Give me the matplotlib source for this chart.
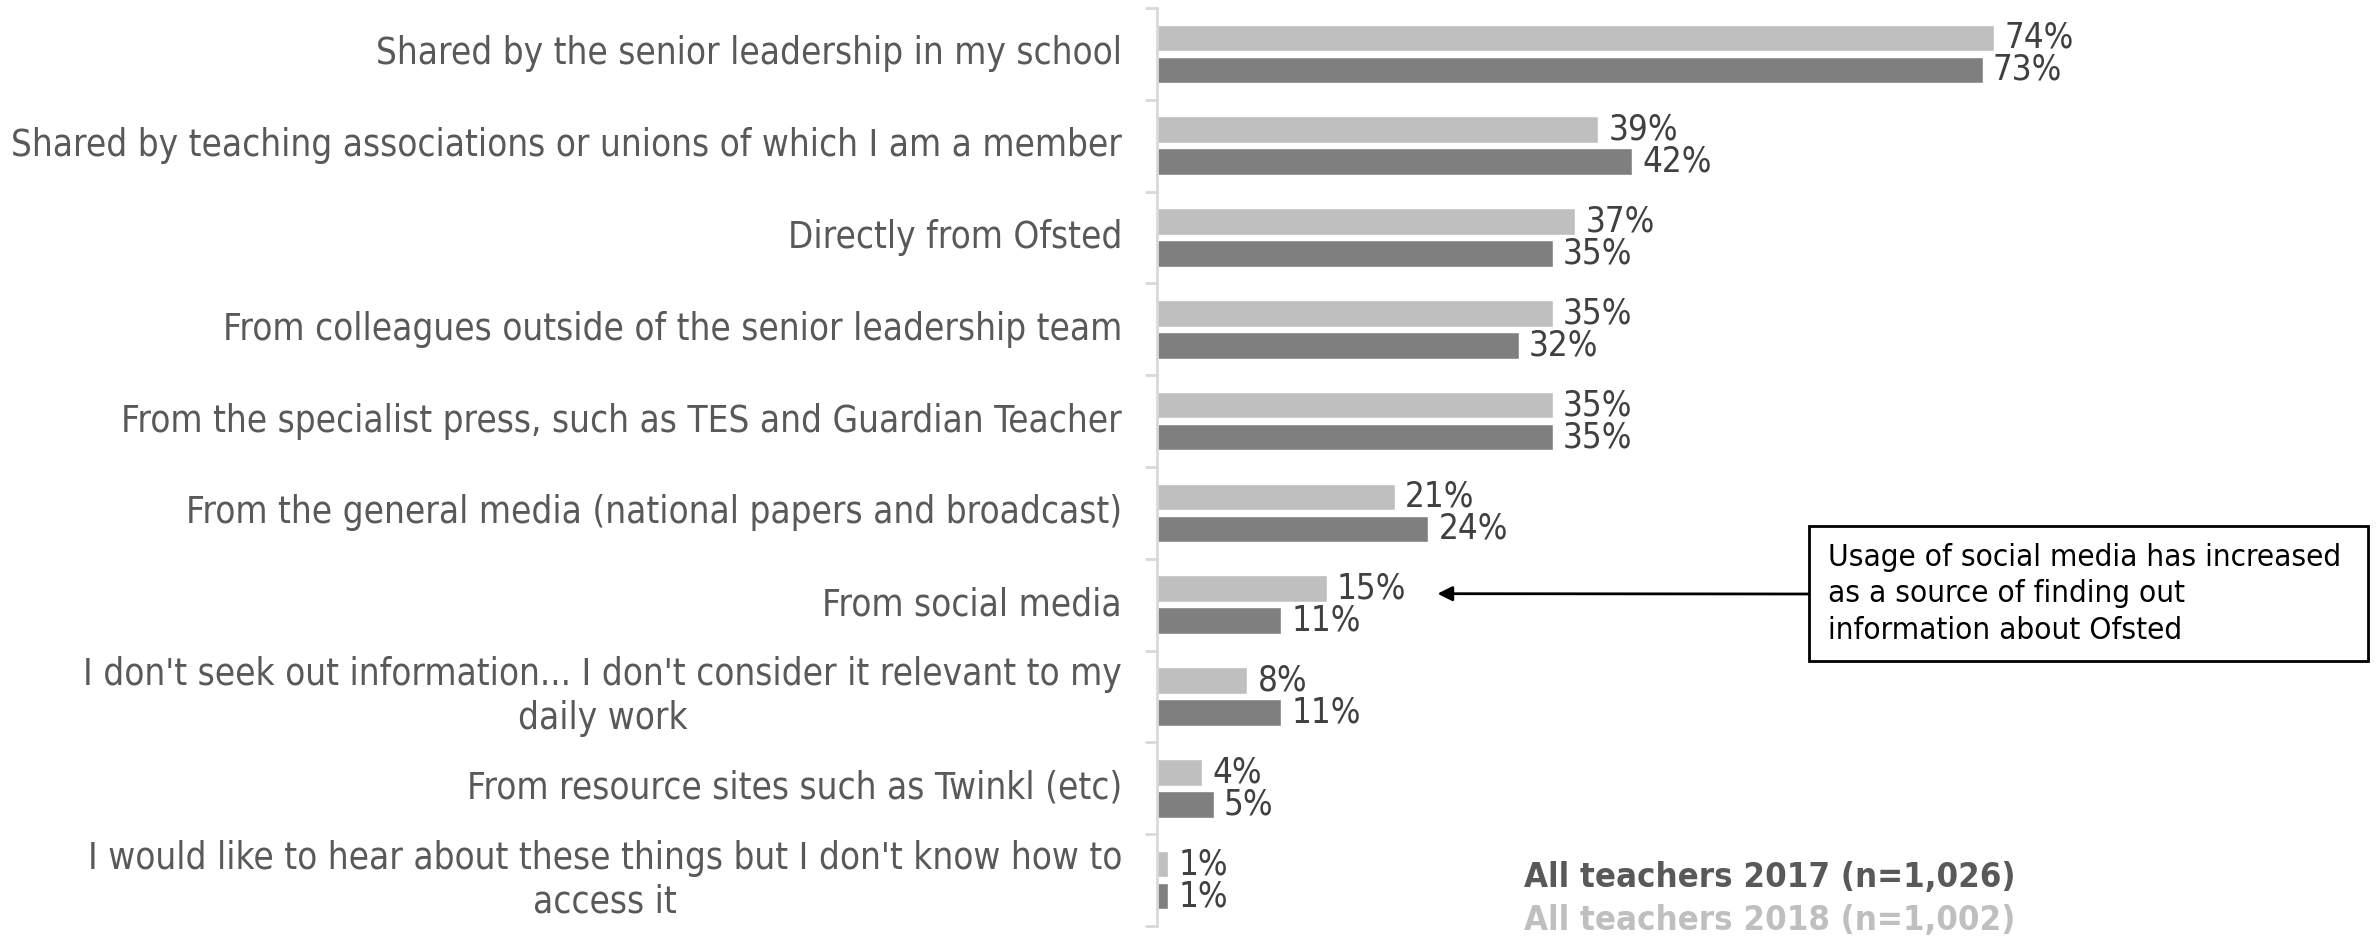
import numpy as np
import matplotlib
matplotlib.use("Agg")
import matplotlib.pyplot as plt
from matplotlib.patches import Rectangle

plt.rcParams['font.family'] = ['DejaVu Sans']
plt.rcParams['font.stretch'] = 'condensed'

categories = [
    "Shared by the senior leadership in my school",
    "Shared by teaching associations or unions of which I am a member",
    "Directly from Ofsted",
    "From colleagues outside of the senior leadership team",
    "From the specialist press, such as TES and Guardian Teacher",
    "From the general media (national papers and broadcast)",
    "From social media",
    "I don't seek out information... I don't consider it relevant to my\ndaily work",
    "From resource sites such as Twinkl (etc)",
    "I would like to hear about these things but I don't know how to\naccess it",
]
teachers_2018 = [74, 39, 37, 35, 35, 21, 15, 8, 4, 1]
teachers_2017 = [73, 42, 35, 32, 35, 24, 11, 11, 5, 1]

legend_2017 = "All teachers 2017 (n=1,026)"
legend_2018 = "All teachers 2018 (n=1,002)"
note = "Usage of social media has increased\nas a source of finding out\ninformation about Ofsted"

light = "#BFBFBF"
dark = "#7F7F7F"
text_col = "#595959"

W, H = 2377, 938
fig = plt.figure(figsize=(W / 100, H / 100), dpi=100)
ax = fig.add_axes([1157 / W, 12 / H, 1220 / W, 918 / H])

y = np.arange(len(categories))
bh = 0.29
off = 0.175
ax.barh(y - off, teachers_2018, height=bh, color=light, edgecolor="white", linewidth=1)
ax.barh(y + off, teachers_2017, height=bh, color=dark, edgecolor="white", linewidth=1)

fs = 26.4
for i in range(len(categories)):
    ax.text(teachers_2018[i] + 0.9, y[i] - off, f"{teachers_2018[i]}%", va="center",
            ha="left", fontsize=25, color="#404040")
    ax.text(teachers_2017[i] + 0.9, y[i] + off, f"{teachers_2017[i]}%", va="center",
            ha="left", fontsize=25, color="#404040")
    ax.text(-3.1, y[i], categories[i], va="center", ha="right", multialignment="center",
            fontsize=fs, color=text_col, linespacing=1.22)

ax.set_xlim(0, 1220 / 11.31)
ax.set_ylim(len(categories) - 0.5, -0.5)

for s in ["top", "right", "bottom"]:
    ax.spines[s].set_visible(False)
ax.spines["left"].set_color("#D9D9D9")
ax.spines["left"].set_linewidth(2)
ax.set_xticks([])
ax.set_yticks(np.arange(-0.5, len(categories), 1))
ax.set_yticklabels([])
ax.tick_params(axis="y", length=9, width=2, color="#D9D9D9")

# legend as plain coloured text
fig.text(1524 / W, 1 - 877 / H, legend_2017, fontsize=24.8, fontweight="bold",
         color=text_col, va="center", ha="left")
fig.text(1524 / W, 1 - 920 / H, legend_2018, fontsize=24.8, fontweight="bold",
         color=light, va="center", ha="left")

# callout box with arrow pointing at the social media bars
fig.patches.append(Rectangle((1809 / W, 1 - 661 / H), 559 / W, 135 / H,
                             transform=fig.transFigure, fc="white", ec="black", lw=2))
ax.annotate("", xy=(24.8, 6 - 0.12), xycoords="data",
            xytext=(1809 / W, 1 - 594 / H), textcoords="figure fraction",
            arrowprops=dict(arrowstyle="-|>", color="black", lw=2, mutation_scale=22,
                            shrinkA=0, shrinkB=0))
fig.text(1828 / W, 1 - 594 / H, note, fontsize=22.6, color="black", va="center",
         ha="left", linespacing=1.32)

fig.savefig("out.png", dpi=100)
